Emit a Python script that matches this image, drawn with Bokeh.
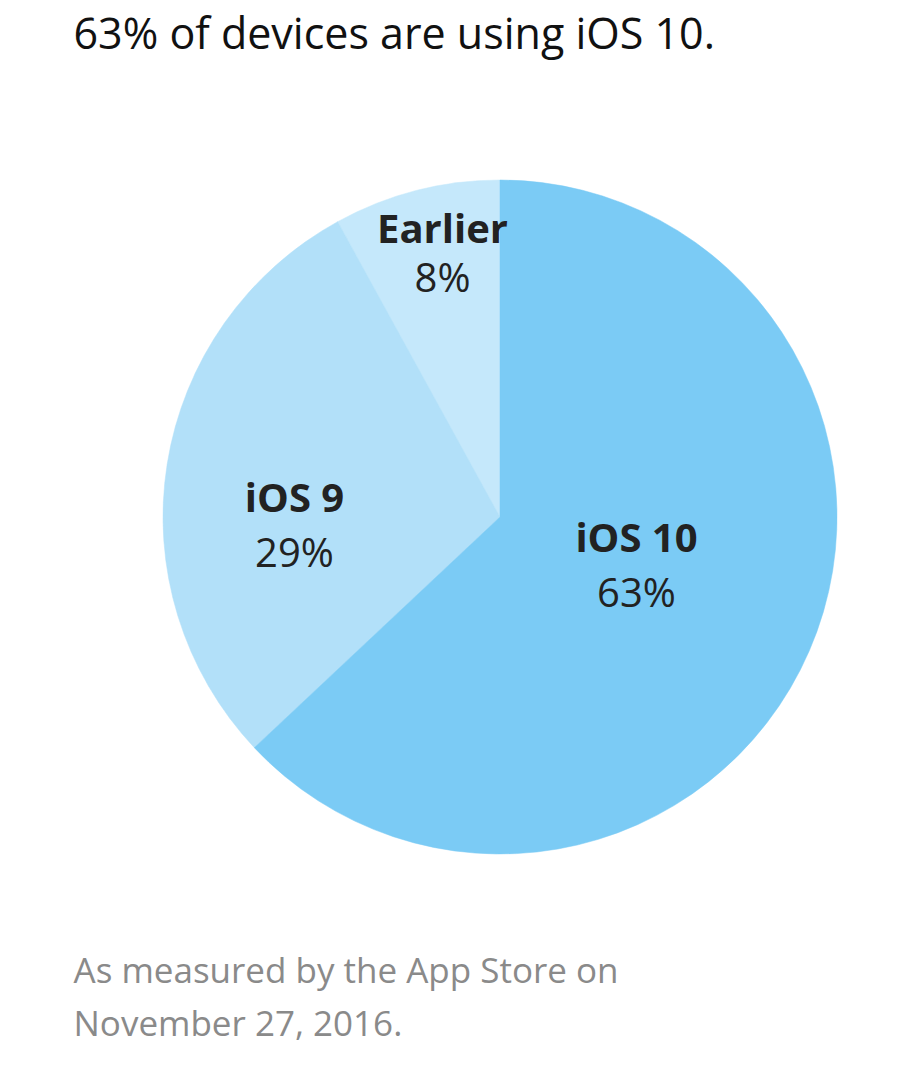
import math
from bokeh.plotting import figure
from bokeh.models import Range1d
from bokeh.core.properties import value
from bokeh.embed import file_html
from bokeh.resources import INLINE

# ---- data ----
categories = ["Earlier", "iOS 9", "iOS 10"]
shares = [8, 29, 63]
colors = ["#C5E8FB", "#B2E0F9", "#7BCBF5"]
title_text = "63% of devices are using iOS 10."
footer_lines = ["As measured by the App Store on", "November 27, 2016."]

# ---- layout ----
W, H = 900, 1050
TOP = 1070
def Y(sy):  # screen y -> data y
    return TOP - sy
TEXT_DY = 16  # empirical baseline correction for svg text

def TY(sy):
    return Y(sy - TEXT_DY)

cx, cy, R = 499.5, Y(516.5), 337

total = float(sum(shares))
starts, ends = [], []
acc = 0.0
for s in shares:
    a0 = math.pi / 2 + 2 * math.pi * acc / total
    acc += s
    a1 = math.pi / 2 + 2 * math.pi * acc / total
    starts.append(a0)
    ends.append(a1)

p = figure(width=W, height=H, output_backend="svg", toolbar_location=None,
           x_range=Range1d(0, W), y_range=Range1d(TOP - H, TOP),
           min_border=0, outline_line_color=None)
p.axis.visible = False
p.grid.visible = False
p.background_fill_color = "white"
p.border_fill_color = "white"

p.wedge(x=[cx] * len(shares), y=[cy] * len(shares), radius=R, radius_units="screen",
        start_angle=starts, end_angle=ends, fill_color=colors, line_color=colors,
        line_width=0.5)

# label anchors (layout only): centre x, name baseline, pct baseline (screen px)
label_x = [442, 294, 636]
name_base = [243, 512, 552]
pct_base = [292, 567, 607]
pcts = [f"{s}%" for s in shares]

FONT = "Open Sans"
p.text(x=label_x, y=[TY(v) for v in name_base], text=categories, text_align="center",
       text_baseline="alphabetic", text_font=value(FONT), text_font_style="bold",
       text_font_size="40px", text_color="#222222")
p.text(x=label_x, y=[TY(v) for v in pct_base], text=pcts, text_align="center",
       text_baseline="alphabetic", text_font=value(FONT), text_font_size="40px",
       text_color="#222222")

p.text(x=[73], y=[TY(48)], text=[title_text], text_align="left", text_baseline="alphabetic",
       text_font=value(FONT), text_font_size="43px", text_color="#111111")

p.text(x=[73, 73], y=[TY(985), TY(1038)], text=footer_lines, text_align="left",
       text_baseline="alphabetic", text_font=value(FONT), text_font_size="35px",
       text_color="#8a8a8a")

open("out.html", "w").write(file_html(p, INLINE))
